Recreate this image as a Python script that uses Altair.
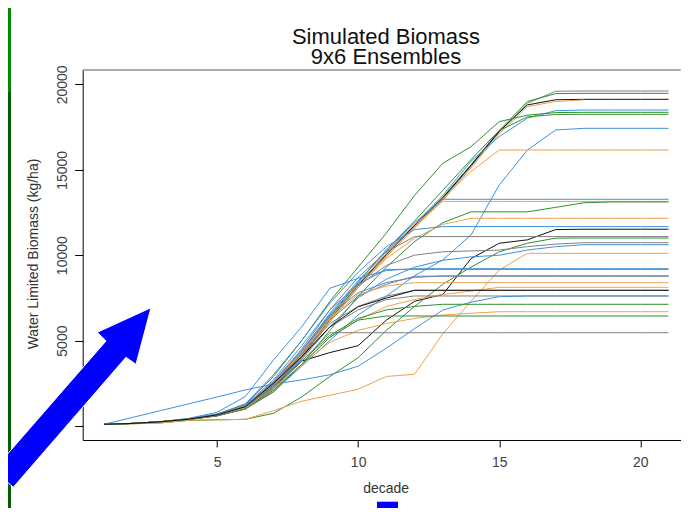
import altair as alt
import pandas as pd

# ---------------- data ----------------
decades = list(range(1, 22))

GRAY, GREEN, BLACK, ORANGE, BLUE = "#7f7f7f", "#2f8f2f", "#111111", "#f2a04a", "#3c91dc"

run01 = [100, 150, 250, 380, 600, 1050, 2300, 4000, 6200, 8200, 10000, 11700, 13300, 15200, 17200, 18900, 19600, 19613, 19613, 19613, 19613]
run02 = [100, 150, 250, 400, 650, 1100, 2400, 4100, 6300, 8300, 10100, 11800, 13400, 15300, 17300, 19000, 19460, 19477, 19477, 19477, 19477]
run03 = [100, 150, 250, 400, 620, 1100, 2400, 4050, 6250, 8250, 10050, 11750, 13350, 15250, 17250, 18800, 19100, 19127, 19127, 19127, 19127]
run04 = [100, 150, 250, 380, 600, 1000, 2300, 3900, 6100, 8100, 9900, 11600, 13200, 15100, 17100, 18700, 19000, 19087, None, None, None]
run05 = [100, 150, 250, 400, 650, 1150, 2600, 4400, 6600, 8500, 10200, 11800, 13500, 15500, 16940, 18030, 18460, 18501, 18501, 18501, 18501]
run06 = [100, 150, 250, 420, 700, 1250, 2900, 5000, 7300, 9300, 11300, 13500, 15380, 16350, 17820, 18200, 18350, 18365, 18365, 18365, 18365]
run07 = [100, 150, 250, 400, 650, 1150, 2500, 4200, 6400, 8400, 10300, 12000, 13800, 15600, 17300, 18100, 18240, 18248, 18248, 18248, 18248]
run08 = [100, 150, 250, 380, 600, 1000, 2000, 3500, 5000, 6500, 7600, 8800, 9720, 11180, 14110, 16160, 17330, 17428, 17428, 17428, 17428]
run09 = [100, 150, 250, 400, 650, 1100, 2400, 4100, 6200, 8100, 9900, 11600, 13300, 14900, 16159, 16159, 16159, 16159, 16159, 16159, 16159]
run10 = [100, 150, 250, 400, 650, 1150, 2500, 4300, 6500, 8400, 10300, 11900, 13273, 13273, 13273, 13273, 13273, 13273, 13273, 13273, 13273]
run11 = [100, 150, 250, 400, 630, 1100, 2400, 4100, 6300, 8300, 10100, 11800, 13150, 13150, 13150, 13150, 13150, 13150, 13150, 13150, 13150]
run12 = [100, 150, 250, 380, 600, 1000, 2000, 3600, 5600, 7600, 9300, 10800, 11900, 12540, 12540, 12540, 12800, 13070, 13120, 13120, 13120]
run13 = [100, 150, 250, 400, 650, 1150, 2500, 4200, 6300, 8200, 9800, 11000, 11800, 12161, 12161, 12161, 12161, 12161, 12161, 12161, 12161]
run14 = [100, 150, 250, 420, 700, 1300, 3000, 5000, 7200, 9000, 10500, 11500, 11674, 11674, 11674, 11674, 11674, 11674, 11674, 11674, 11674]
run15 = [100, 150, 250, 400, 620, 1100, 2300, 3800, 4300, 4700, 6200, 7300, 7700, 9800, 10700, 10900, 11500, 11522, 11522, 11522, 11522]
run16 = [100, 150, 250, 400, 650, 1150, 2600, 4500, 6800, 8700, 10200, 11089, 11089, 11089, 11089, 11089, 11089, 11089, 11089, 11089, 11089]
run17 = [100, 130, 180, 330, 360, 390, 744, 1700, 2900, 4000, 5600, 7000, 8300, 9300, 10200, 10700, 11000, 11007, 11007, 11007, 11007]
run18 = [100, 150, 250, 400, 650, 1150, 2500, 4300, 6400, 8200, 9400, 10000, 10200, 10250, 10300, 10500, 10650, 10732, 10732, 10732, 10732]
run19 = [100, 150, 250, 400, 620, 1100, 2300, 3900, 5800, 7500, 8600, 9300, 9700, 9900, 10000, 10300, 10500, 10615, 10615, 10615, 10615]
run20 = [100, 130, 180, 330, 360, 390, 900, 1450, 1800, 2150, 2900, 3030, 5400, 7300, 9130, 10111, 10111, 10111, 10111, 10111, 10111]
run21 = [100, 150, 250, 450, 800, 1720, 3860, 5810, 8060, 8650, 9100, 9210, 9210, 9210, 9210, 9210, 9210, 9210, 9210, 9210, 9210]
run22 = [100, 150, 250, 400, 650, 1200, 2700, 4700, 6800, 8300, 9170, 9170, 9170, 9170, 9170, 9170, 9170, 9170, 9170, 9170, 9170]
run23 = [100, 150, 250, 400, 650, 1150, 2500, 4400, 6500, 7800, 8400, 8700, 8790, 8790, 8790, 8790, 8790, 8790, 8790, 8790, 8790]
run24 = [100, 150, 250, 400, 620, 1100, 2400, 4200, 6200, 7600, 8300, 8770, 8770, 8770, 8770, 8770, 8770, 8770, 8770, 8770, 8770]
run25 = [100, 150, 250, 400, 650, 1150, 2500, 4300, 6300, 7700, 8200, 8390, 8390, 8390, 8390, 8390, 8390, 8390, 8390, 8390, 8390]
run26 = [100, 150, 250, 400, 600, 1000, 2100, 3600, 5200, 6200, 7000, 7400, 7700, 7900, 8120, 8120, 8120, 8120, 8120, 8120, 8120]
run27 = [100, 150, 250, 400, 650, 1100, 2500, 4200, 6000, 7000, 7600, 7944, 7944, 7944, 7944, 7944, 7944, 7944, 7944, 7944, 7944]
run28 = [100, 150, 250, 400, 620, 1050, 2300, 4000, 5800, 6800, 7400, 7611, 7611, 7611, 7611, 7611, 7611, 7611, 7611, 7611, 7611]
run29 = [100, 500, 900, 1300, 1700, 2108, 2450, 2700, 3000, 3500, 4550, 5700, 6790, 7250, 7570, 7611, 7611, 7611, 7611, 7611, 7611]
run30 = [100, 150, 250, 400, 600, 1000, 2200, 3800, 5300, 6300, 6800, 7000, 7125, 7125, 7125, 7125, 7125, 7125, 7125, 7125, 7125]
run31 = [100, 150, 250, 400, 620, 1050, 2200, 3600, 4900, 5600, 6000, 6300, 6500, 6600, 6692, 6692, 6692, 6692, 6692, 6692, 6692]
run32 = [100, 150, 250, 400, 600, 1000, 2100, 3600, 5200, 6200, 6440, 6440, 6440, 6440, 6440, 6440, 6440, 6440, 6440, 6440, 6440]
run33 = [100, 150, 250, 400, 600, 1000, 2200, 3800, 5462, 5462, 5462, 5462, 5462, 5462, 5462, 5462, 5462, 5462, 5462, 5462, 5462]
run34 = [100, 150, 250, 400, 650, 1130, 2500, 4060, 5810, 6980, 7490, 7944, 7944, 7944, 7944, 7944, 7944, 7944, 7944, 7944, 7944]

runs = [run01, run02, run03, run04, run05, run06, run07, run08, run09, run10,
        run11, run12, run13, run14, run15, run16, run17, run18, run19, run20,
        run21, run22, run23, run24, run25, run26, run27, run28, run29, run30,
        run31, run32, run33, run34]
run_colors = [GRAY, GREEN, BLACK, ORANGE, BLUE, GREEN, GREEN, BLUE, ORANGE, BLUE,
              ORANGE, GREEN, ORANGE, BLUE, BLACK, GRAY, GREEN, GRAY, BLUE, ORANGE,
              BLUE, BLUE, BLUE, GRAY, ORANGE, ORANGE, GRAY, GRAY, BLUE, GREEN,
              ORANGE, GREEN, GRAY, BLACK]

title_lines = ["Simulated Biomass", "9x6 Ensembles"]
x_title = "decade"
y_title = "Water Limited Biomass (kg/ha)"
x_ticks = [5, 10, 15, 20]
y_ticks = [0, 5000, 10000, 15000, 20000]

rows = []
for i, (vals, col) in enumerate(zip(runs, run_colors)):
    for d, v in zip(decades, vals):
        if v is not None:
            rows.append({"run": f"r{i:02d}", "decade": d, "value": v, "color": col})
df = pd.DataFrame(rows)
dummy = pd.DataFrame({"k": [0]})

FONT = "Liberation Sans"
W, H = 598, 370

lines = alt.Chart(df).mark_line(strokeWidth=1).encode(
    x=alt.X("decade:Q",
            scale=alt.Scale(domain=[0.24, 21.43], nice=False, zero=False),
            axis=alt.Axis(values=x_ticks, grid=False, tickSize=7, tickColor="#000",
                          domainColor="#000", labelFont=FONT, labelFontSize=14,
                          labelColor="#404040", labelPadding=20, labelBaseline="alphabetic",
                          labelFlush=False,
                          title=x_title, titleFont=FONT, titleFontSize=14,
                          titleFontWeight="normal", titleColor="#333",
                          titleX=303, titleY=52.7, titleAlign="center",
                          titleBaseline="alphabetic")),
    y=alt.Y("value:Q",
            scale=alt.Scale(domain=[-820, 20843], nice=False, zero=False),
            axis=alt.Axis(values=y_ticks, format="d", grid=False, tickSize=8, tickColor="#000",
                          domainColor="#000", labelFont=FONT, labelFontSize=14,
                          labelColor="#404040", labelAngle=270, labelAlign="center",
                          labelBaseline="alphabetic", labelPadding=8, labelFlush=False,
                          labelExpr="datum.value == 0 ? '' : datum.label",
                          title=y_title, titleFont=FONT, titleFontSize=14,
                          titleFontWeight="normal", titleColor="#333",
                          titleAngle=270, titleX=-45, titleY=183.5, titleAlign="center",
                          titleBaseline="alphabetic")),
    color=alt.Color("color:N", scale=None),
    detail="run:N",
    order="decade:Q",
)

top_border = alt.Chart(dummy).mark_rule(color="#555555", strokeWidth=1).encode(
    x=alt.value(0), x2=alt.value(W), y=alt.value(0), y2=alt.value(0))

strip_light = alt.Chart(dummy).mark_rect(color="#008c00").encode(
    x=alt.value(-74.7), x2=alt.value(-71.7), y=alt.value(-62), y2=alt.value(22))
strip_dark = alt.Chart(dummy).mark_rect(color="#005f00").encode(
    x=alt.value(-74.7), x2=alt.value(-71.7), y=alt.value(22), y2=alt.value(438))

arrow_path = ("M -89.2 400.1 L 23.3 271 L 14.6 262.3 L 68.3 237.7 "
              "L 53.3 294.3 L 43.3 287.3 L -69.4 417.3 Z")
arrow = alt.Chart(dummy).mark_point(shape=arrow_path, size=4, filled=True,
                                    fill="#0000ff", opacity=1, stroke="#ffffff",
                                    strokeWidth=1).encode(
    x=alt.value(0), y=alt.value(0))

square = alt.Chart(dummy).mark_rect(color="#0000ff").encode(
    x=alt.value(294.3), x2=alt.value(315.3), y=alt.value(431.7), y2=alt.value(438))

title = alt.Chart(dummy).mark_text(text=title_lines, font=FONT, fontSize=22, color="#111",
                                   align="center", baseline="alphabetic",
                                   lineHeight=19.5).encode(
    x=alt.value(303.3), y=alt.value(-26))

chart = alt.layer(lines, top_border, strip_light, strip_dark, arrow, square, title).properties(
    width=W, height=H,
    autosize="none",
    padding={"left": 74.7, "top": 62, "right": 0, "bottom": 68},
    background="#ffffff",
).configure_view(stroke="transparent", strokeWidth=0)

chart.save("out.html", embed_options={"renderer": "svg", "actions": False})
